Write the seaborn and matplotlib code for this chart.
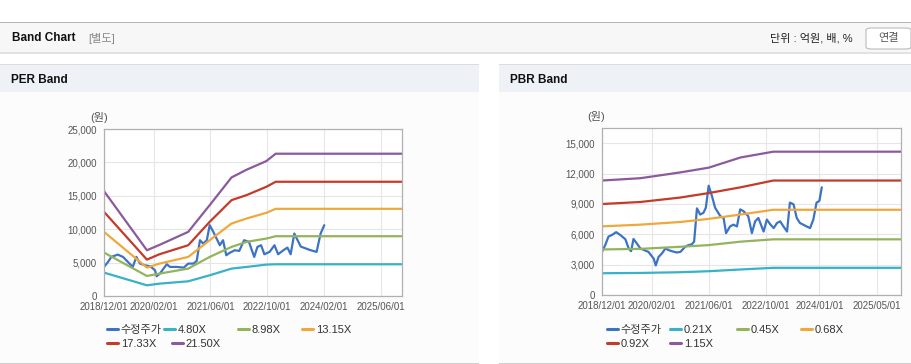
import pandas as pd
import matplotlib.pyplot as plt
import seaborn as sns
from matplotlib.patches import Rectangle, FancyBboxPatch
from matplotlib.lines import Line2D

sns.set_style('white')
plt.rcParams['font.family'] = ['Liberation Sans', 'Noto Sans CJK KR', 'DejaVu Sans']

# ---- data (x = period index, roughly months from 2018/12) ----
per_ticks = [0, 12.4, 26.3, 40.3, 54.4, 68.4]
per_tick_labels = ['2018/12/01', '2020/02/01', '2021/06/01', '2022/10/01', '2024/02/01', '2025/06/01']
per_xmax = 73.6

per_band_x = [0, 10.6, 13.7, 20.8, 26.1, 31.5, 35.2, 40.1, 42.4, 73.6]
per_band_names = ['4.80X', '8.98X', '13.15X', '17.33X', '21.50X']
per_bands = {
    '4.80X': [3500, 1600, 1850, 2200, 3100, 4100, 4350, 4700, 4750, 4750],
    '8.98X': [6500, 3000, 3350, 4100, 5850, 7350, 8100, 8600, 8950, 8950],
    '13.15X': [9600, 4250, 4850, 5850, 8350, 10850, 11600, 12450, 13050, 13050],
    '17.33X': [12600, 5450, 6250, 7600, 11100, 14350, 15100, 16350, 17100, 17100],
    '21.50X': [15700, 6850, 7650, 9600, 13600, 17750, 18900, 20200, 21300, 21300],
}
per_price_x = [0, 1.0, 1.8, 3.4, 4.7, 6.3, 7.1, 8.0, 8.9, 10.1, 11.4, 12.6, 13.0,
               13.8, 14.7, 15.5, 16.3, 18.0, 19.7, 20.8, 22.1, 22.9, 23.7, 24.5,
               25.4, 26.1, 27.0, 27.8, 28.6, 29.4, 30.2, 31.0, 32.3, 33.4, 34.6,
               35.8, 37.1, 37.9, 38.8, 39.6, 40.9, 42.1, 43.0, 44.2, 45.3, 46.1,
               47.0, 48.6, 50.8, 52.5, 53.5, 54.4]
per_price = [4350, 5100, 5850, 6200, 5850, 4850, 4350, 5850, 4850, 4600, 4450, 3850, 2950,
             3350, 4100, 4750, 4350, 4350, 4250, 4850, 4850, 5250, 8350, 7850,
             8350, 10600, 9600, 8600, 7600, 8350, 6100, 6450, 6850, 6750, 8350,
             8100, 5850, 7350, 7600, 6250, 6600, 7600, 6250, 6800, 7250, 6250,
             9350, 7400, 6900, 6600, 9350, 10600]

pbr_ticks = [0, 12.3, 26.4, 40.5, 53.8, 68.0]
pbr_tick_labels = ['2018/12/01', '2020/02/01', '2021/06/01', '2022/10/01', '2024/01/01', '2025/05/01']
pbr_xmax = 74.0

pbr_band_x = [0, 9.5, 19.4, 26.4, 34.3, 42.4, 74.0]
pbr_band_names = ['0.21X', '0.45X', '0.68X', '0.92X', '1.15X']
pbr_bands = {
    '0.21X': [2150, 2180, 2250, 2350, 2520, 2685, 2685],
    '0.45X': [4500, 4560, 4765, 4930, 5270, 5500, 5500],
    '0.68X': [6780, 6950, 7215, 7520, 7950, 8420, 8420],
    '0.92X': [8990, 9190, 9630, 10070, 10640, 11310, 11310],
    '1.15X': [11310, 11540, 12115, 12580, 13590, 14160, 14160],
}
pbr_price_x = [0, 0.8, 1.6, 2.5, 3.5, 4.5, 5.8, 6.6, 7.2, 7.8, 8.6, 9.5, 11.5, 12.8,
               13.3, 14.0, 14.8, 15.7, 16.5, 17.3, 18.5, 19.4, 20.6, 21.4, 22.2,
               22.8, 23.5, 24.3, 25.1, 25.7, 26.4, 27.2, 28.0, 29.3, 30.1, 30.7,
               31.7, 32.5, 33.4, 34.2, 35.0, 36.2, 37.1, 37.9, 38.7, 39.5, 40.0,
               40.8, 41.7, 42.5, 43.3, 44.1, 44.9, 45.8, 46.5, 47.4, 48.2, 49.0,
               49.8, 50.6, 51.5, 52.3, 53.1, 53.8, 54.4]
pbr_price = [4260, 4930, 5770, 5940, 6210, 5940, 5500, 4600, 4330, 5540, 5100, 4600, 4260, 3590,
             2920, 3760, 4090, 4600, 4430, 4330, 4200, 4260, 4770, 4930, 5000,
             5270, 8560, 7950, 8120, 8620, 10800, 9790, 8620, 7780, 7610, 6110,
             6780, 6950, 6780, 8460, 8290, 7780, 6110, 7280, 7610, 6780, 6270,
             7450, 6950, 6610, 7110, 7280, 6780, 6270, 9130, 8960, 7610, 7110,
             6950, 6780, 6610, 7450, 9130, 9300, 10640]

colors = {
    'price': '#3b74c4',
    0: '#37b2c6',
    1: '#93b45b',
    2: '#f0a83c',
    3: '#c43a2b',
    4: '#8b5a9e',
}

W, H = 912, 364
fig = plt.figure(figsize=(W / 100, H / 100), dpi=100)
fig.patch.set_facecolor('white')


def px_rect(x0, y0, x1, y1, **kw):
    # rectangle in pixel coordinates (origin at top-left)
    r = Rectangle((x0 / W, 1 - y1 / H), (x1 - x0) / W, (y1 - y0) / H,
                  transform=fig.transFigure, zorder=-5, **kw)
    fig.patches.append(r)


def px_text(x, y, s, **kw):
    fig.text(x / W, 1 - y / H, s, **kw)


# top header bar
px_rect(0, 22, 912, 53, facecolor='#f7f7f7', edgecolor='none')
px_rect(0, 21.5, 912, 23, facecolor='#b5b5b5', edgecolor='none')
px_rect(0, 52, 912, 54, facecolor='#e2e2e2', edgecolor='none')
px_text(12, 38, 'Band Chart', fontsize=8.5, fontweight='bold', color='#111111', va='center')
px_text(88, 38, '[별도]', fontsize=8, color='#888888', va='center')
px_text(770, 38, '단위 : 억원, 배, %', fontsize=8, color='#222222', va='center')
btn = FancyBboxPatch((866 / W, 1 - 49 / H), 45 / W, 21 / H, boxstyle='round,pad=0,rounding_size=0.006',
                     transform=fig.transFigure, facecolor='white', edgecolor='#bbbbbb', lw=0.8,
                     zorder=-4)
fig.patches.append(btn)
px_text(888.5, 38, '연결', fontsize=8, color='#555555', va='center', ha='center')

# panels
for x0, x1, title in [(0, 479, 'PER Band'), (499, 912, 'PBR Band')]:
    px_rect(x0, 64, x1, 364, facecolor='#fcfcfc', edgecolor='none')
    px_rect(x0, 64, x1, 92, facecolor='#eef2f7', edgecolor='none')
    px_rect(x0, 63.5, x1, 65, facecolor='#dcdcdc', edgecolor='none')
    px_rect(x0, 362.5, x1, 364, facecolor='#d0d0d0', edgecolor='none')
    px_text(x0 + 11, 80, title, fontsize=8.5, fontweight='bold', color='#111111', va='center')


def draw_panel(rect, band_x, bands, names, price_x, price, ticks, tick_labels, xmax,
               ymax, yticks, legend_pos):
    ax = fig.add_axes(rect)
    ax.set_facecolor('white')
    sns.lineplot(x=price_x, y=price, ax=ax, color=colors['price'], lw=1.6)
    for i, name in enumerate(names):
        sns.lineplot(x=band_x, y=bands[name], ax=ax, color=colors[i], lw=1.6)
    ax.set_xlim(0, xmax)
    ax.set_ylim(0, ymax)
    ax.set_xticks(ticks)
    ax.set_xticklabels(tick_labels)
    ax.set_yticks(yticks)
    ax.set_yticklabels([f'{v:,}' for v in yticks])
    ax.grid(True, color='#e6e6e6', lw=0.8)
    ax.set_axisbelow(True)
    for sp in ax.spines.values():
        sp.set_color('#b0b0b0')
        sp.set_linewidth(0.9)
    ax.tick_params(axis='both', labelsize=7, colors='#555555', length=3, width=0.8,
                   direction='out', pad=2)
    ax.tick_params(axis='x', length=0, pad=4)
    ax.set_xlabel('')
    ax.set_ylabel('')
    ax.text(-0.018, 1.066, '(원)', transform=ax.transAxes, fontsize=8, color='#555555',
            ha='center', va='center')

    # legend entries laid out in a flow, like the web widget
    labels = ['수정주가'] + names
    line_colors = [colors['price']] + [colors[i] for i in range(len(names))]
    for (lx, ly), lab, col in zip(legend_pos, labels, line_colors):
        fig.legend([Line2D([], [], color=col, lw=2.2)], [lab], loc='center left',
                   bbox_to_anchor=(lx / W, 1 - ly / H), frameon=False, fontsize=8,
                   handlelength=0.95, handletextpad=0.3, borderaxespad=0, borderpad=0,
                   labelcolor='#333333')
    return ax


per_legend_pos = [(107, 330), (164, 330), (238, 330), (302, 330), (107, 344), (172, 344)]
pbr_legend_pos = [(607, 330), (670, 330), (737, 330), (801, 330), (607, 344), (670, 344)]

draw_panel([104 / W, 1 - 296 / H, 298 / W, 167 / H], per_band_x, per_bands, per_band_names,
           per_price_x, per_price, per_ticks, per_tick_labels, per_xmax,
           25000, [0, 5000, 10000, 15000, 20000, 25000], per_legend_pos)
draw_panel([602 / W, 1 - 295 / H, 299 / W, 167 / H], pbr_band_x, pbr_bands, pbr_band_names,
           pbr_price_x, pbr_price, pbr_ticks, pbr_tick_labels, pbr_xmax,
           16500, [0, 3000, 6000, 9000, 12000, 15000], pbr_legend_pos)

fig.savefig('out.png', dpi=100)
